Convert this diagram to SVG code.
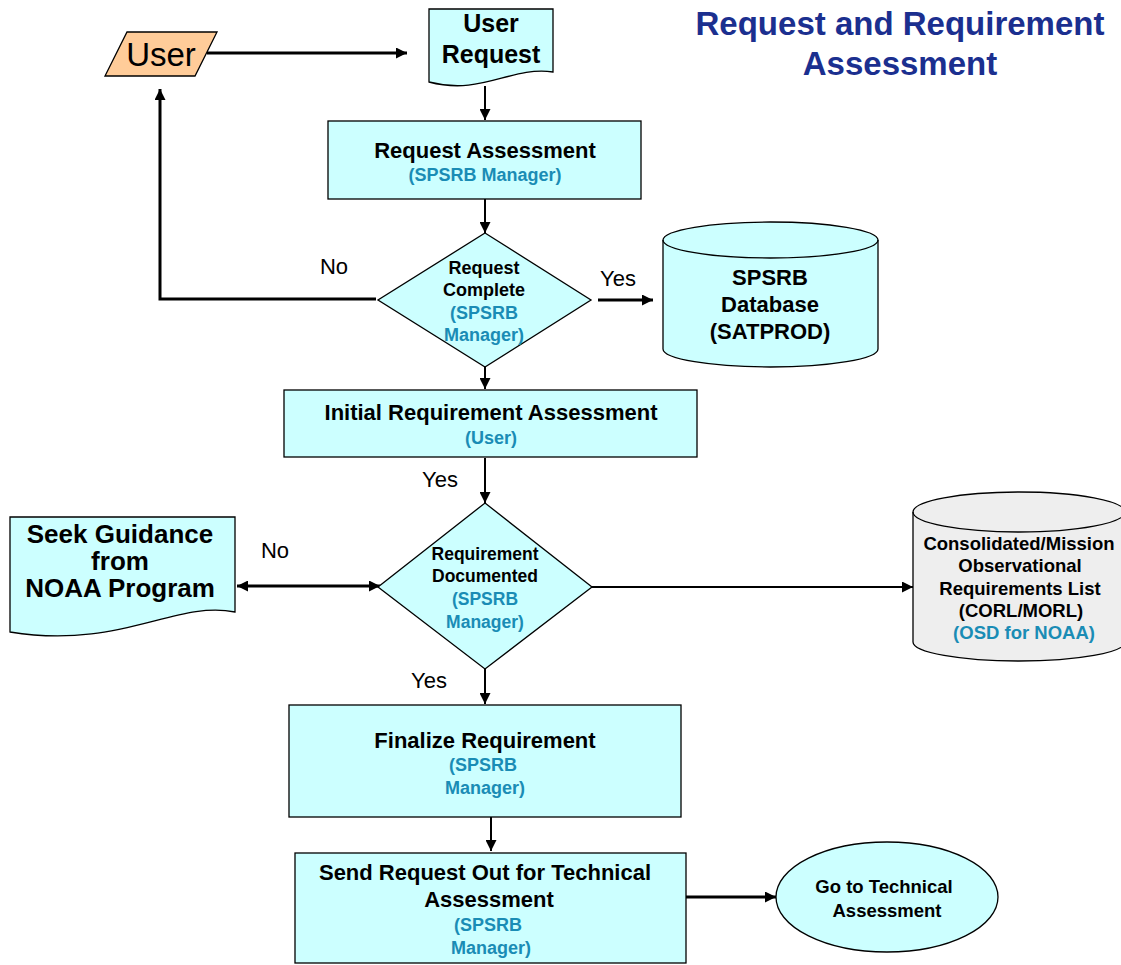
<svg xmlns="http://www.w3.org/2000/svg" width="1121" height="965" viewBox="0 0 1121 965">
<defs>
<marker id="ah" viewBox="0 0 10 10" refX="10" refY="5" markerWidth="11" markerHeight="11" markerUnits="userSpaceOnUse" orient="auto-start-reverse">
<path d="M0,0 L10,5 L0,10 Z" fill="#000"/>
</marker>
<style>
.node{fill:#CCFFFF;stroke:#000;stroke-width:1.3}
.t{font-family:"Liberation Sans",Arial,sans-serif;font-weight:bold;fill:#000;text-anchor:middle}
.s{font-family:"Liberation Sans",Arial,sans-serif;font-weight:bold;fill:#1A8CB5;text-anchor:middle}
.l{font-family:"Liberation Sans",Arial,sans-serif;fill:#000;text-anchor:middle;font-size:22px}
.c{fill:none;stroke:#000;stroke-width:2}
.k{fill:none;stroke:#000;stroke-width:3}
</style>
</defs>
<rect width="1121" height="965" fill="#fff"/>

<g id="title">
<text class="t" x="900" y="35" font-size="33" style="fill:#1B2F8F">Request and Requirement</text>
<text class="t" x="900" y="75" font-size="33" style="fill:#1B2F8F">Assessment</text>
</g>

<g id="connectors">
<line class="k" x1="207" y1="53" x2="407" y2="53" marker-end="url(#ah)"/>
<line class="c" x1="485" y1="86" x2="485" y2="120" marker-end="url(#ah)"/>
<line class="c" x1="485" y1="199" x2="485" y2="233" marker-end="url(#ah)"/>
<polyline class="k" points="376,299 160,299 160,89" marker-end="url(#ah)"/>
<line class="k" x1="598" y1="300" x2="653" y2="300" marker-end="url(#ah)"/>
<line class="c" x1="485" y1="367" x2="485" y2="389" marker-end="url(#ah)"/>
<line class="c" x1="485" y1="458" x2="485" y2="503" marker-end="url(#ah)"/>
<line class="k" x1="237" y1="586" x2="380" y2="586" marker-start="url(#ah)" marker-end="url(#ah)"/>
<line class="c" x1="592" y1="587" x2="913" y2="587" marker-end="url(#ah)"/>
<line class="c" x1="485" y1="669" x2="485" y2="704" marker-end="url(#ah)"/>
<line class="c" x1="491" y1="817" x2="491" y2="851" marker-end="url(#ah)"/>
<line class="k" x1="686" y1="897" x2="776" y2="897" marker-end="url(#ah)"/>
<text class="l" x="334" y="274">No</text>
<text class="l" x="618" y="286">Yes</text>
<text class="l" x="440" y="487">Yes</text>
<text class="l" x="275" y="558">No</text>
<text class="l" x="429" y="688">Yes</text>
</g>

<g id="user">
<polygon points="127,32 217,32 195,76 105,76" fill="#FFCC99" stroke="#000" stroke-width="1.3"/>
<text x="161" y="66" font-family="'Liberation Sans',Arial,sans-serif" font-size="33" text-anchor="middle" fill="#000">User</text>
</g>

<g id="user-request">
<path class="node" d="M429,9 H553 V72 C510,66 482,96 429,82 Z"/>
<text class="t" x="491" y="32" font-size="25">User</text>
<text class="t" x="491" y="63" font-size="25">Request</text>
</g>

<g id="request-assessment">
<rect class="node" x="328" y="121" width="313" height="78"/>
<text class="t" x="485" y="158" font-size="22">Request Assessment</text>
<text class="s" x="485" y="181" font-size="18">(SPSRB Manager)</text>
</g>

<g id="request-complete">
<polygon class="node" points="485,233 591,300 485,367 378,300"/>
<text class="t" x="484" y="274" font-size="18">Request</text>
<text class="t" x="484" y="296" font-size="18">Complete</text>
<text class="s" x="484" y="319" font-size="18">(SPSRB</text>
<text class="s" x="484" y="341" font-size="18">Manager)</text>
</g>

<g id="spsrb-database">
<path class="node" d="M663,240 V349 A107.5,18 0 0 0 878,349 V240 A107.5,18 0 0 0 663,240 Z"/>
<path d="M663,240 A107.5,18 0 0 0 878,240" fill="none" stroke="#000" stroke-width="1.3"/>
<text class="t" x="770" y="285" font-size="22">SPSRB</text>
<text class="t" x="770" y="312" font-size="22">Database</text>
<text class="t" x="770" y="339" font-size="22">(SATPROD)</text>
</g>

<g id="initial-requirement-assessment">
<rect class="node" x="284" y="390" width="413" height="67"/>
<text class="t" x="491" y="420" font-size="22">Initial Requirement Assessment</text>
<text class="s" x="491" y="444" font-size="18">(User)</text>
</g>

<g id="requirement-documented">
<polygon class="node" points="485,503 592,587 485,669 378,587"/>
<text class="t" x="485" y="560" font-size="17.5">Requirement</text>
<text class="t" x="485" y="582" font-size="17.5">Documented</text>
<text class="s" x="485" y="605" font-size="17.5">(SPSRB</text>
<text class="s" x="485" y="628" font-size="17.5">Manager)</text>
</g>

<g id="seek-guidance">
<path class="node" d="M10,517 H235 V612 C175,600 120,650 10,632 Z"/>
<text class="t" x="120" y="543" font-size="26">Seek Guidance</text>
<text class="t" x="120" y="570" font-size="26">from</text>
<text class="t" x="120" y="597" font-size="26">NOAA Program</text>
</g>

<g id="corl-morl">
<path d="M913,512 V642 A106,19 0 0 0 1125,642 V512 A106,20 0 0 0 913,512 Z" fill="#EEEEEE" stroke="#000" stroke-width="1.3"/>
<path d="M913,512 A106,20 0 0 0 1125,512" fill="none" stroke="#000" stroke-width="1.3"/>
<text class="t" x="1019" y="550" font-size="18.5">Consolidated/Mission</text>
<text class="t" x="1020" y="572" font-size="18.5">Observational</text>
<text class="t" x="1020" y="595" font-size="18.5">Requirements List</text>
<text class="t" x="1021" y="617" font-size="18.5">(CORL/MORL)</text>
<text class="s" x="1024" y="639" font-size="18.5">(OSD for NOAA)</text>
</g>

<g id="finalize-requirement">
<rect class="node" x="289" y="705" width="392" height="112"/>
<text class="t" x="485" y="748" font-size="22">Finalize Requirement</text>
<text class="s" x="483" y="771" font-size="18">(SPSRB</text>
<text class="s" x="485" y="794" font-size="18">Manager)</text>
</g>

<g id="send-request">
<rect class="node" x="295" y="853" width="391" height="110"/>
<text class="t" x="485" y="880" font-size="22">Send Request Out for Technical</text>
<text class="t" x="489" y="907" font-size="22">Assessment</text>
<text class="s" x="488" y="931" font-size="18">(SPSRB</text>
<text class="s" x="491" y="954" font-size="18">Manager)</text>
</g>

<g id="go-to-technical">
<ellipse class="node" cx="887" cy="897" rx="111" ry="55"/>
<text class="t" x="884" y="893" font-size="18.5">Go to Technical</text>
<text class="t" x="887" y="917" font-size="18.5">Assessment</text>
</g>
</svg>
